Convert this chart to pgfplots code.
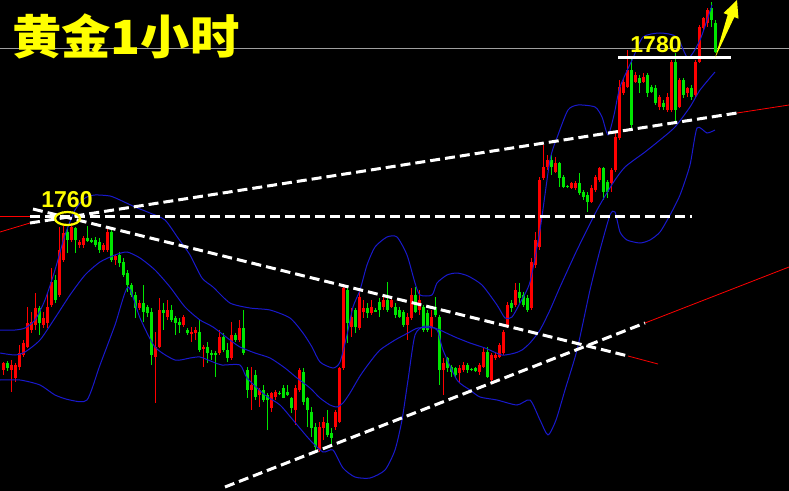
\documentclass[border=0pt]{standalone}
\usepackage{fontspec}
\usepackage{graphicx}
\usepackage{pgfplots}
\usepackage{pgfplotstable}
\pgfplotsset{compat=1.18}
\usetikzlibrary{shapes.geometric}
\newfontfamily\cjk{Noto Sans CJK SC}
\newfontfamily\arialf{Liberation Sans}
\definecolor{cred}{RGB}{255,0,0}
\definecolor{cgreen}{RGB}{0,230,0}
\definecolor{bandblue}{RGB}{25,25,205}
\definecolor{tyellow}{RGB}{255,255,0}

% candles, y in screen rows (0 = top): k open high low close
\pgfplotstableread{
k o h l c
0 370 362 375 363
1 363 361 371 368
2 370 360 392 365
3 378 363 382 365
4 367 345 370 353
5 355 340 357 343
6 347 307 348 323
7 330 312 333 322
8 325 293 330 308
9 308 306 335 323
10 325 312 328 318
11 323 293 328 307
12 305 268 307 282
13 280 275 303 300
14 295 227 297 250
15 260 225 262 233
16 232 228 253 240
17 240 223 242 227
18 228 227 253 240
19 245 240 248 242
20 245 236 248 238
21 238 226 242 241
22 240 238 243 241
23 240 237 247 245
24 242 238 253 250
25 250 243 252 245
26 250 228 252 232
27 232 230 262 260
28 260 255 265 256
29 255 252 267 263
30 262 258 277 275
31 273 270 292 285
32 285 283 297 295
33 295 292 318 308
34 308 300 310 303
35 303 285 322 312
36 307 305 317 313
37 312 308 365 355
38 357 332 403 347
39 347 298 348 310
40 310 303 330 313
41 317 300 320 310
42 310 305 322 320
43 318 316 335 323
44 322 318 333 325
45 325 315 327 317
46 330 328 335 333
47 333 327 342 332
48 333 327 340 330
49 332 320 352 350
50 348 345 367 347
51 347 342 363 353
52 353 350 360 355
53 353 351 377 355
54 353 330 355 337
55 337 333 352 350
56 350 343 362 358
57 358 322 360 335
58 335 333 342 340
59 340 320 342 328
60 328 310 355 353
61 370 367 398 390
62 390 367 410 385
63 375 370 400 397
64 395 388 407 390
65 390 385 402 400
66 395 393 430 400
67 408 392 412 393
68 397 390 400 392
69 393 391 395 393.5
70 388 385 398 398
71 392 385 396 395
72 398 397 413 408
73 410 385 425 388
74 390 368 392 370
75 372 368 405 402
76 398 397 427 410
77 412 407 437 428
78 427 423 453 447
79 450 422 452 427
80 428 417 440 422
81 423 410 437 435
82 433 428 445 438
83 427 410 430 412
84 422 367 423 368
85 368 287 370 288
86 290 288 343 323
87 327 308 337 317
88 310 308 333 327
89 328 290 330 297
90 312 300 318 308
91 308 303 318 313
92 313 300 315 307
93 310 308 312 311
94 302 298 317 310
95 307 297 310 300
96 300 282 312 310
97 307 298 308 300
98 307 303 318 315
99 310 307 318 317
100 312 310 327 325
101 325 313 340 317
102 318 288 320 295
103 295 287 313 312
104 310 290 315 300
105 307 305 332 330
106 313 310 332 330
107 328 310 337 317
108 307 297 317 315
109 317 315 385 370
110 370 358 395 363
111 358 357 372 368
112 367 365 377 372
113 368 367 378 375
114 373 365 383 368
115 370 362 372 365
116 365 363 373 370
117 369 368 371 369.5
118 368 367 372 371
119 372 363 375 365
120 367 348 368 352
121 352 347 378 377
122 380 353 383 355
123 358 352 360 355
124 357 343 358 345
125 353 330 355 332
126 327 302 328 305
127 303 300 312 308
128 305 283 307 290
129 292 283 303 298
130 295 292 307 305
131 298 295 312 310
132 308 258 310 262
133 265 232 268 240
134 247 177 250 180
135 178 145 180 167
136 167 155 170 160
137 160 155 175 167
138 172 157 173 163
139 163 162 187 178
140 177 175 188 187
141 186 185 188 186.5
142 188 182 189 183
143 188 181 190 183
144 183 173 195 193
145 192 190 200 197
146 195 192 212 202
147 202 185 203 188
148 190 175 192 177
149 180 167 182 168
150 168 167 200 192
151 182 180 198 192
152 183 168 192 170
153 170 133 172 137
154 138 80 140 87
155 93 78 95 82
156 87 50 88 70
157 70 58 128 125
158 82 72 83 75
159 78 75 93 83
160 82 73 83 77
161 75 73 97 93
162 87 85 93 92
163 88 85 105 103
164 107 95 110 97
165 103 100 110 107
166 110 93 112 97
167 110 60 112 62
168 62 53 122 110
169 107 78 108 80
170 80 78 98 95
171 93 87 97 88
172 88 85 100 97
173 95 60 97 62
174 62 25 63 27
175 28 17 30 18
176 23 8 27 10
177 8 2 27 20
178 23 20 53 52
}\candles

\begin{document}
\begin{tikzpicture}
\fill[black] (0,0) rectangle (789bp,491bp);
\begin{axis}[
    width=789bp, height=491bp, scale only axis,
    xmin=0, xmax=789, ymin=0, ymax=491,
    y dir=reverse,
    axis lines=none, ticks=none,
    clip=true,
]

% thin grey line near the top
\addplot[gray!75, line width=0.8bp] coordinates {(0,48) (789,48)};

% wicks
\addplot[draw=none, restrict expr to domain={\thisrow{o}-\thisrow{c}}{0:1000},
    error bars/.cd, y dir=both, y explicit, error mark=none,
    error bar style={draw=cred, line width=1bp}]
    table[x expr=3+4*\thisrow{k}, y expr=(\thisrow{h}+\thisrow{l})/2,
          y error expr=(\thisrow{l}-\thisrow{h})/2] {\candles};
\addplot[draw=none, restrict expr to domain={\thisrow{c}-\thisrow{o}}{0.001:1000},
    error bars/.cd, y dir=both, y explicit, error mark=none,
    error bar style={draw=cgreen, line width=1bp}]
    table[x expr=3+4*\thisrow{k}, y expr=(\thisrow{h}+\thisrow{l})/2,
          y error expr=(\thisrow{l}-\thisrow{h})/2] {\candles};
% bodies
\addplot[draw=none, restrict expr to domain={\thisrow{o}-\thisrow{c}}{0:1000},
    error bars/.cd, y dir=both, y explicit, error mark=none,
    error bar style={draw=cred, line width=3bp}]
    table[x expr=3+4*\thisrow{k}, y expr=(\thisrow{o}+\thisrow{c})/2,
          y error expr={max(abs(\thisrow{o}-\thisrow{c})/2,0.6)}] {\candles};
\addplot[draw=none, restrict expr to domain={\thisrow{c}-\thisrow{o}}{0.001:1000},
    error bars/.cd, y dir=both, y explicit, error mark=none,
    error bar style={draw=cgreen, line width=3bp}]
    table[x expr=3+4*\thisrow{k}, y expr=(\thisrow{o}+\thisrow{c})/2,
          y error expr={max(abs(\thisrow{o}-\thisrow{c})/2,0.6)}] {\candles};

% bollinger bands
\addplot[bandblue, line width=1bp, smooth, tension=0.4] coordinates {
(0,330) (15,330) (25,328) (35,320) (45,300) (55,270) (65,235) (75,210) (85,198)
(95,195) (110,196) (120,200) (135,207) (150,213) (165,220) (178,238) (190,255)
(202,278) (213,287) (230,303) (250,308) (270,310) (290,318) (303,333) (312,347)
(320,362) (333,368) (340,362) (347,335) (353,307) (360,290) (367,265) (375,247)
(387,237) (397,237) (407,255) (415,283) (420,295) (432,295) (437,283) (447,275)
(457,273) (468,276) (482,285) (497,305) (505,318) (512,317) (520,303) (530,282)
(540,230) (550,160) (558,135) (568,110) (578,105) (595,107) (602,117) (608,135)
(614,115) (620,87) (633,58) (643,37) (660,33) (677,37) (688,58) (700,40) (712,5)};
\addplot[bandblue, line width=1bp, smooth, tension=0.4] coordinates {
(0,353) (15,355) (25,352) (40,340) (55,318) (70,295) (85,275) (100,262) (115,255)
(127,252) (140,258) (155,270) (170,287) (185,307) (200,320) (213,327) (230,340)
(240,347) (255,353) (270,358) (285,368) (297,378) (310,388) (320,398) (330,405)
(337,407) (343,403) (350,393) (360,376) (370,362) (380,350) (395,340) (408,333)
(418,328) (435,328) (440,330) (455,337) (470,343) (485,348) (502,355) (515,353)
(522,350) (530,343) (540,330) (550,310) (560,287) (577,250) (597,210) (613,183)
(625,167) (645,152) (660,140) (675,127) (690,107) (700,90) (715,72)};
\addplot[bandblue, line width=1bp, smooth, tension=0.4] coordinates {
(0,380) (20,380) (40,385) (55,395) (70,400) (87,400) (100,365) (115,325) (128,287)
(140,318) (155,347) (175,360) (190,358) (200,357) (213,362) (222,365) (240,365)
(247,378) (265,395) (280,405) (293,420) (310,440) (323,452) (333,450) (343,468)
(355,477) (370,478) (385,470) (395,450) (402,420) (408,380) (415,335) (425,326)
(437,330) (443,350) (457,380) (470,390) (480,397) (497,400) (517,405) (530,400)
(540,420) (548,435) (556,420) (565,390) (577,350) (590,290) (600,250) (610,215)
(615,212) (620,232) (627,240) (640,243) (650,240) (660,232) (670,215) (680,195)
(690,165) (697,128) (707,133) (715,130)};

% thin red trend extensions
\addplot[cred, line width=0.8bp] coordinates {(0,216) (35,216)};
\addplot[cred, line width=0.8bp] coordinates {(0,232) (30,223)};
\addplot[cred, line width=0.8bp] coordinates {(737,113) (789,105)};
\addplot[cred, line width=0.8bp] coordinates {(628,356) (658,364)};
\addplot[cred, line width=0.8bp] coordinates {(645,323) (789,267)};

% white dashed trend lines
\addplot[white, line width=3bp, dash pattern=on 10bp off 5bp] coordinates {(30,223) (737,113)};
\addplot[white, line width=3bp, dash pattern=on 10bp off 5bp] coordinates {(30,216) (692,216)};
\addplot[white, line width=3bp, dash pattern=on 10bp off 5bp] coordinates {(33,209) (628,356)};
\addplot[white, line width=3bp, dash pattern=on 10bp off 5bp] coordinates {(225,487) (645,323)};

% 1780 level
\addplot[white, line width=3bp] coordinates {(618,58) (731,58)};

% labels
\node[anchor=base west, inner sep=0, text=tyellow,
      font=\cjk\bfseries\fontsize{47bp}{47bp}\selectfont]
      at (axis cs:12,55) {\scalebox{1.05}[1]{黄金1小时}};
\node[anchor=base, inner sep=0, text=tyellow,
      font=\arialf\bfseries\fontsize{23bp}{23bp}\selectfont]
      at (axis cs:67,207) {1760};
\node[anchor=base, inner sep=0, text=tyellow,
      font=\arialf\bfseries\fontsize{23bp}{23bp}\selectfont]
      at (axis cs:656,53) {1780};
\node[draw=tyellow, line width=2.2bp, ellipse, minimum width=25bp,
      minimum height=13bp, inner sep=0] at (axis cs:67.5,218.5) {};

% arrow
\fill[tyellow] (axis cs:715,58) -- (axis cs:727.7,14.7) -- (axis cs:723.5,13.1)
   -- (axis cs:737,0) -- (axis cs:738.5,18.7) -- (axis cs:734.3,17.1) -- cycle;
\end{axis}
\pgfresetboundingbox
\path[use as bounding box] (0,0) rectangle (789bp,491bp);
\end{tikzpicture}
\end{document}
